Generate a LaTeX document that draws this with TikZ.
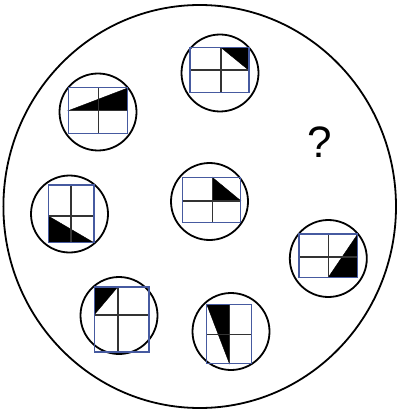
\documentclass[tikz,border=0pt]{standalone}
\usepackage{fontspec}
\setmainfont{Liberation Sans}
\begin{document}
\begin{tikzpicture}[x=1pt,y=-1pt,
  ring/.style={draw=black,line width=1.8pt},
  frame/.style={draw=gridblue,line width=1.1pt},
  cross/.style={draw=black!80,line width=1.6pt},
  wedge/.style={fill=black,draw=black,line width=0.4pt,line join=miter}]
\definecolor{gridblue}{RGB}{70,90,160}
\useasboundingbox (0,0) rectangle (398,414);
\draw[ring] (199.7,206.5) ellipse [x radius=196.3,y radius=201.5];
% 1 top
\draw[ring] (220,73) circle [radius=38.5];
\fill[wedge] (220.7,47.3) -- (248.5,47.3) -- (248.5,70) -- cycle;
\draw[cross] (220.7,47.3) -- (220.7,92.3) (190,70) -- (249,70);
\draw[frame] (190,47.3) rectangle (249,92.3);
% 2 top-left
\draw[ring] (98,112) circle [radius=38.5];
\fill[wedge] (68.3,110.7) -- (127.7,88) -- (127.7,110.7) -- cycle;
\draw[cross] (98.3,87.3) -- (98.3,133.3) (68.3,110.7) -- (127.7,110.7);
\draw[frame] (68.3,87.3) rectangle (127.7,133.3);
% 3 center
\draw[ring] (209.5,201.5) circle [radius=38.5];
\fill[wedge] (212.3,177.3) -- (212.3,200.7) -- (240.7,200.7) -- cycle;
\draw[cross] (212.3,177.3) -- (212.3,222.3) (182.3,200.7) -- (240.7,200.7);
\draw[frame] (182.3,177.3) rectangle (240.7,222.3);
% 4 left
\draw[ring] (69.5,214) circle [radius=38.5];
\fill[wedge] (48.3,216) -- (48.3,242.7) -- (94,242.7) -- cycle;
\draw[cross] (71,185) -- (71,242.7) (48.3,216) -- (94,216);
\draw[frame] (48.3,185) rectangle (94,242.7);
% 5 right
\draw[ring] (328.3,258.5) circle [radius=38.5];
\fill[wedge] (357.7,234) -- (357.7,277.3) -- (328.3,277.3) -- cycle;
\draw[cross] (328.3,234) -- (328.3,277.3) (299,256.7) -- (357.7,256.7);
\draw[frame] (299,234) rectangle (357.7,277.3);
% 6 bottom-left
\draw[ring] (119,315.5) circle [radius=38.5];
\fill[wedge] (94.3,287) -- (117.7,287) -- (94.3,314.7) -- cycle;
\draw[cross] (117.7,287) -- (117.7,352) (94.3,314.7) -- (149,314.7);
\draw[frame] (94.3,287) rectangle (149,352);
% 7 bottom
\draw[ring] (231,331.5) circle [radius=38.5];
\fill[wedge] (206.7,304.3) -- (229.3,304.3) -- (229.3,363.3) -- cycle;
\draw[cross] (229.3,304.3) -- (229.3,363.3) (206.7,334.3) -- (251.7,334.3);
\draw[frame] (206.7,304.3) rectangle (251.7,363.3);
% question mark
\node[inner sep=0pt,font=\fontsize{44}{44}\selectfont] (q) at (320,142) {?};
\end{tikzpicture}
\end{document}
